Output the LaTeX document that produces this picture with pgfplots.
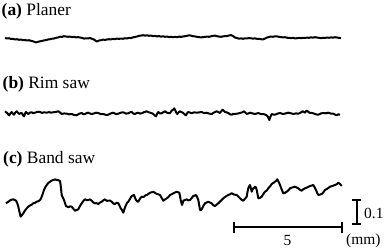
\documentclass[border=0pt]{standalone}
\usepackage{pgfplots}
\pgfplotsset{compat=1.18}
\usepackage{fontspec}
\setmainfont{Liberation Serif}
\newcommand{\lblfont}{\fontsize{17.5}{21}\selectfont}
\newcommand{\sclfont}{\fontsize{15.5}{18}\selectfont}
\begin{document}
\begin{tikzpicture}
\begin{axis}[width=388bp, height=250bp, scale only axis,
  xmin=0, xmax=388, ymin=0, ymax=250, y dir=reverse,
  axis line style={draw=none}, ticks=none, clip=false]
% (a) Planer
\addplot[black, line width=2bp, line join=round] coordinates {
(5,38)(7,38.5)(9,38.2)(11,39)(13,38.8)(15,39.5)(17,39.2)(19,39.8)(21,39.5)(23,40.2)(25,40)(27,40.5)(29,40.2)(31,40.8)(33,41.3)(35,42)(36,42.5)(38,41.8)(40,41.3)(42,41)(44,40.3)(46,40.2)(48,39.5)(50,39.2)(52,38.7)(54,38.5)(56,37.8)(58,37.5)(60,36.7)(62,36.8)(64,36.2)(66,36.5)(68,36.8)(70,36.6)(72,37.2)(74,36.9)(76,37.4)(78,37.1)(80,37.5)(82,37.9)(84,38.6)(86,38.3)(88,38.5)(90,38)(92,38.8)(94,39.5)(96,41)(97,41.5)(99,40.5)(101,40.2)(103,39.6)(105,39.9)(107,39.5)(109,39.2)(111,39.4)(113,38.9)(115,39.1)(117,38.6)(119,38.9)(121,38.5)(123,38.8)(125,38.2)(127,38.5)(129,37.9)(131,38.1)(133,37.3)(135,37)(137,36.5)(139,35.8)(141,35.6)(143,35.2)(145,35.6)(147,35.3)(149,35.8)(151,35.5)(153,36.1)(155,35.9)(157,36.4)(159,36.1)(161,36.6)(163,36.3)(165,36.8)(167,36.5)(169,37.1)(171,36.8)(173,37.2)(175,36.9)(177,37.1)(179,36.6)(181,36.9)(183,36.5)(185,36.2)(187,35.8)(189,35.3)(191,35.6)(193,36.2)(195,36.4)(197,36.9)(199,37.1)(201,37.4)(203,37.1)(205,36.9)(207,36.6)(209,36.8)(211,36.3)(213,35.9)(215,35.6)(217,36.2)(219,36.6)(221,36.8)(223,36.4)(225,36.1)(227,36)(229,35.5)(231,35.1)(233,36)(235,37.5)(237,38.1)(239,38.6)(241,38.4)(243,38.8)(245,38.3)(247,38.5)(249,38)(251,38.3)(253,38.6)(255,38.4)(257,38.8)(259,38.9)(261,39.2)(263,39.4)(265,38.6)(267,37.6)(269,36.9)(271,36.6)(273,36.8)(275,36.3)(277,36.4)(279,36.9)(281,37.1)(283,37.4)(285,37.2)(287,37.7)(289,37.9)(291,38.2)(293,37.8)(295,38.4)(297,38.2)(299,37.9)(301,38.1)(303,37.8)(305,38)(307,37.6)(309,37.8)(311,37.4)(313,37.6)(315,37.2)(317,37.5)(319,37.8)(321,38.1)(323,37.8)(325,37.9)(327,37.5)(329,37.8)(331,37.4)(333,37.6)(335,37.2)(337,37.5)(339,37.9)(341,38.1)
};
% (b) Rim saw
\addplot[black, line width=2bp, line join=round] coordinates {
(5,111.3)(6.2,112.4)(7.3,113)(8.3,114.6)(9.3,115.3)(10.5,113.2)(11.7,112)(12.8,113.6)(14,114.7)(15.4,112.5)(16.7,111.3)(18,112.8)(19.3,114)(20.5,113.2)(21.7,113)(23,115.2)(24,116.3)(25,113.6)(26,112)(27.2,113.1)(28.3,114)(30,112.6)(31.7,112.3)(33.3,113.2)(35,112.7)(37.5,111.8)(40,112)(42,112.9)(44,112.3)(46.7,112.7)(49,112.1)(51,112.6)(53.3,112.3)(56,111.9)(58.3,111.3)(60,112.5)(61.7,114)(64,113.4)(66.7,113.7)(69,114.3)(71.7,114)(74,114.9)(76.7,115.3)(79,113.8)(81.7,113)(83.3,114.2)(85,114)(86.7,113.1)(88.3,112.7)(91,113.9)(93.3,113.7)(96,112.7)(98.3,113)(101,114.2)(103.3,114)(106,114.9)(108.3,114.7)(111,113.3)(113.3,112.7)(116,114.1)(118.3,113.7)(121,112.6)(123.3,112.3)(126,113.6)(128.3,113.3)(130,112.3)(131.7,112)(133.3,113.5)(135,114)(136.7,113.1)(138.3,112.7)(140,113.6)(141.7,113.3)(144,112.2)(146.7,111.3)(148.3,112.1)(150,112.7)(151.7,113.2)(153.3,114)(154.7,115.5)(156,116.3)(157.2,113.6)(158.3,112)(160,113.5)(161.7,113.3)(163.3,112.2)(165,111.3)(166.7,112.6)(168.3,113)(170,113)(171.7,110.7)(173.3,109.5)(174.2,108.4)(175,109.7)(176.2,112.5)(177.3,114)(178.7,112.2)(180,111.3)(181.7,112.1)(183.3,113)(184.7,114.5)(186,115.3)(187.2,113.1)(188.3,112)(190,112.6)(191.7,113.3)(194,112.3)(196.7,112.7)(199,112.4)(201.7,112)(204,113.1)(206.7,112.7)(209,113.6)(211.7,114)(214,112.5)(216.7,111.3)(218.3,112.1)(220,113)(221.3,111.1)(222.7,109.7)(223.8,110.8)(225,112)(226.7,112.4)(228.3,113)(230,114.3)(231.7,114.7)(233.3,113.8)(235,114)(237.5,113.6)(240,113)(242,112.4)(244,111.3)(245.3,112.6)(246.7,114)(248.3,113.5)(250,112.7)(252.5,113.4)(255,114)(256.7,113.5)(258.3,113)(261,114.2)(263.3,114)(265,114.6)(266.7,115.3)(268,116.9)(269.3,120)(270.5,116.6)(271.7,114)(273.3,114.5)(275,114.7)(277.5,113.6)(280,113)(281.7,113.6)(283.3,114)(286,113.3)(288.3,112.7)(291,113.3)(293.3,114)(296,113.4)(298.3,113.7)(300.5,112.7)(302.7,111.3)(303.8,111.9)(305,112.7)(305.8,111.6)(306.7,110.7)(308.3,111.8)(310,113)(311.7,112.9)(313.3,113.3)(316,114.4)(318.3,114.7)(321,113.4)(323.3,113)(326,113.3)(328.3,112.7)(331,113.6)(333.3,113.7)(335,114.6)(336.7,115.3)(338.3,114.3)(340,114.7)
};
% (c) Band saw
\addplot[black, line width=2bp, line join=round] coordinates {
(6,203.3)(8.3,201.7)(10.7,200)(13.3,199.3)(16,200.7)(17.2,203)(18.3,206.7)(19.5,212)(20.7,216.7)(22,215)(23.3,213.3)(25,210.5)(26.7,208.3)(28.7,206.4)(30.7,205)(32,204.5)(33.3,203.3)(35,202.8)(36.7,201.7)(38.3,201.2)(40,200)(41,198.5)(41.7,196.7)(43,193)(44,190)(45.3,187.2)(46.7,185)(48.3,183)(50,181.7)(51.7,180.6)(53.3,180)(55,179.4)(56.7,180)(58.3,180.2)(60,181)(60.5,184)(61,188.3)(61.7,195)(62.8,197.5)(64,200)(65,203)(66,206)(67.2,206.6)(68.3,207.3)(70,206.3)(71.7,206.7)(73.3,208.7)(75,210.7)(76.7,210)(78.3,209.3)(80,206)(81.7,203.3)(83.3,201)(85,199.3)(86.7,200.2)(88.3,200)(90,199.4)(91.7,200.7)(93.3,202.5)(95,203.3)(96.7,203.2)(98.3,204)(100,202.5)(101.7,201.7)(103.3,200.4)(105,199.3)(106.7,200.8)(108.3,200.7)(110,200.5)(111.7,201.7)(113.3,203.5)(115,204)(116.7,202.7)(118.3,203.3)(119.5,205.5)(120.7,208.3)(122,210)(123.3,212.7)(124.7,208.2)(126,205)(127.2,202.6)(128.3,201.7)(130,198.8)(131.7,196)(132.8,195.5)(134,195)(135,197.8)(136,200)(137.2,201.4)(138.3,201.7)(140,198.6)(141.7,196.7)(143,197)(144,196.7)(145.3,195.4)(146.7,195)(148.3,194)(150,192.7)(151.7,192.3)(153.3,191.7)(155,192.8)(156.7,194)(158.3,194.3)(160,195)(161.7,198)(163.3,200.7)(165,199.5)(166.7,198.3)(168.3,197.2)(170,195)(171.7,194.3)(173.3,193.3)(175,192.5)(176.7,191.7)(178,192.3)(179.3,192.7)(180,196)(180.7,200)(181.3,202.5)(182,205)(182.7,203)(183.3,200.7)(185,200.1)(186.7,199.3)(188.3,200.4)(190,200)(191.7,198)(193.3,196)(194.7,195.6)(196,195)(197.2,197.2)(198.3,200)(199.2,205)(200,210)(201,210.2)(201.7,209.3)(203.3,206)(205,203.3)(206.7,202.5)(208.3,201.7)(210,202.6)(211.7,203.3)(213.3,205.3)(215,206)(216.7,204.6)(218.3,203.3)(220.8,200.8)(223.3,198.3)(225.8,196.4)(228.3,195)(230,194.3)(231.7,193.3)(234,194.5)(236.7,195)(238.3,196.5)(240,198.3)(241.7,199.8)(243.3,200.7)(245,198.8)(246.7,196.7)(247.5,192)(248.3,188.3)(249.2,186.2)(250,185)(250.8,188)(251.7,191.7)(252.5,189.6)(253.3,188.3)(254.2,187.8)(255,186.7)(256,187.5)(256.7,190)(257.5,194)(258.3,198.3)(260,197.8)(261.7,196.7)(263.3,194)(265,191.7)(266.7,190.6)(268.3,188.3)(270,186.5)(271.7,184)(273.3,183)(275,181.7)(276.2,180.8)(277.3,179.3)(278.7,182)(280,185)(281.7,189.5)(283.3,193.3)(285,192.8)(286.7,191.7)(288.3,190.4)(290,188.3)(292.5,187.4)(295,186.7)(296.7,187.5)(298.3,188.3)(300,189.8)(301.7,190.7)(303.3,189.2)(305,188.3)(307.5,187.3)(310,186)(311.7,185.6)(313.3,185)(314.7,187.5)(316,190)(317.2,193)(318.3,195)(320,194.6)(321.7,194)(323.3,192.4)(325,190)(327.5,188.6)(330,186.7)(332.5,185.9)(335,185)(336.7,184.2)(338.3,182.7)(340,184)(341.7,186)
};
% scale bars
\addplot[black, line width=1.9bp] coordinates {(234,227.3)(341.7,227.3)};
\addplot[black, line width=1.9bp] coordinates {(234,221.6)(234,233)};
\addplot[black, line width=1.9bp] coordinates {(341.7,221.6)(341.7,233)};
\addplot[black, line width=1.9bp] coordinates {(356.7,200)(356.7,224)};
\addplot[black, line width=1.9bp] coordinates {(352.3,200)(361.1,200)};
\addplot[black, line width=1.9bp] coordinates {(352.3,224)(361.1,224)};
% labels
\node[anchor=base west, inner sep=0pt] at (axis cs:1.5,15.5) {\lblfont\textbf{(a)} Planer};
\node[anchor=base west, inner sep=0pt] at (axis cs:2.5,88.3) {\lblfont\textbf{(b)} Rim saw};
\node[anchor=base west, inner sep=0pt] at (axis cs:3,163.3) {\lblfont\textbf{(c)} Band saw};
\node[anchor=base, inner sep=0pt] at (axis cs:287.5,245) {\sclfont 5};
\node[anchor=base west, inner sep=0pt] at (axis cs:346,244) {\sclfont (mm)};
\node[anchor=base west, inner sep=0pt] at (axis cs:364,218) {\sclfont 0.1};
\end{axis}
\pgfresetboundingbox
\path (current axis.south west) rectangle (current axis.north east);
\end{tikzpicture}
\end{document}
